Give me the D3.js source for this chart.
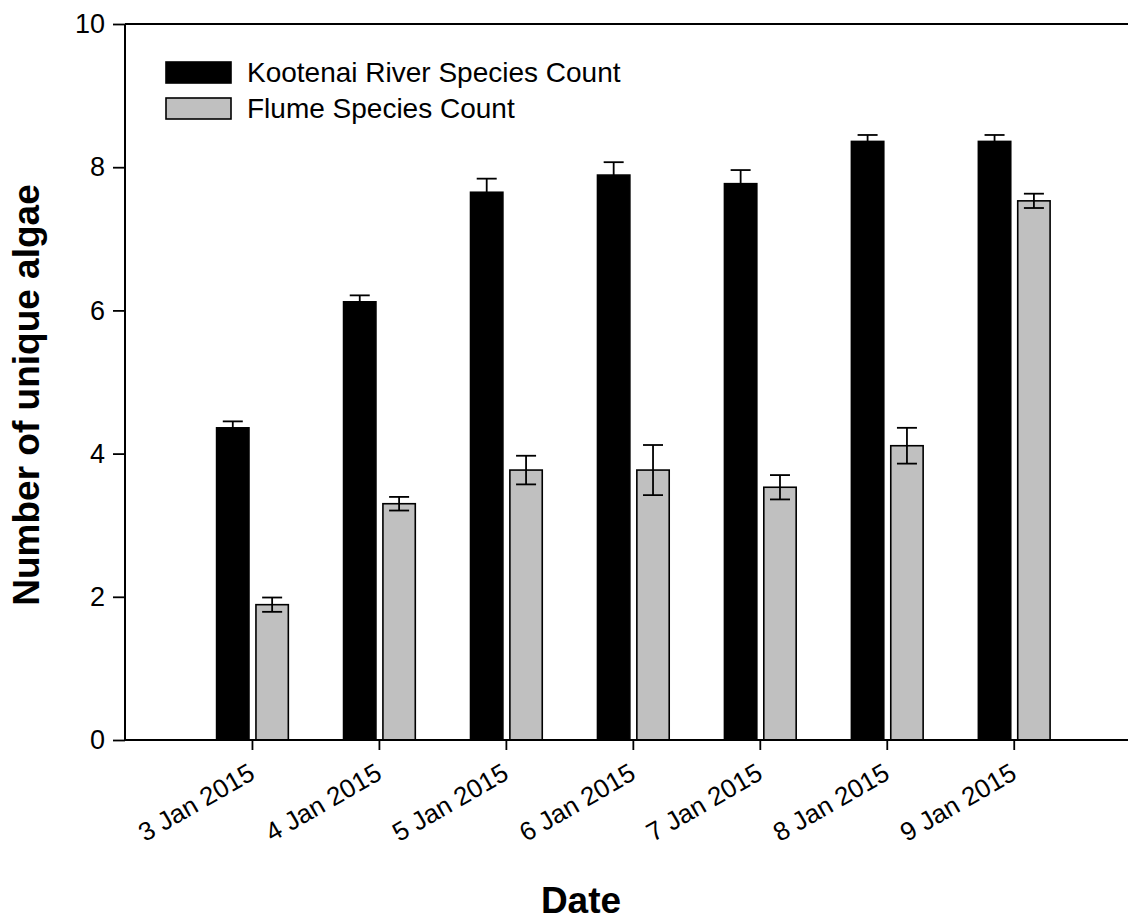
<!DOCTYPE html>
<html>
<head>
<meta charset="utf-8">
<script src="https://cdn.jsdelivr.net/npm/d3@7"></script>
<style>
  html, body { margin: 0; padding: 0; background: #fff; }
  svg { display: block; font-family: Arial, "Liberation Sans", sans-serif; }
</style>
</head>
<body>
<svg id="chart" width="1128" height="921"></svg>
<script>
// Sampling dates and species counts (mean ± standard error)
const dates = ["3 Jan 2015", "4 Jan 2015", "5 Jan 2015", "6 Jan 2015", "7 Jan 2015", "8 Jan 2015", "9 Jan 2015"];
const riverCount = [4.36, 6.12, 7.65, 7.89, 7.77, 8.36, 8.36];
const riverErr   = [0.09, 0.09, 0.19, 0.18, 0.19, 0.09, 0.09];
const flumeCount = [1.89, 3.30, 3.77, 3.77, 3.53, 4.11, 7.53];
const flumeErr   = [0.10, 0.095, 0.20, 0.35, 0.17, 0.25, 0.10];
const yTicks = [0, 2, 4, 6, 8, 10];
const seriesNames = ["Kootenai River Species Count", "Flume Species Count"];

const FONT = "Arial, 'Liberation Sans', sans-serif";
const svg = d3.select("#chart");
const plotLeft = 125, plotRight = 1128, plotTop = 24, plotBottom = 740;

const x = d3.scaleLinear().domain([0, 7.9]).range([plotLeft, plotRight]);
const y = d3.scaleLinear().domain([0, 10]).range([plotBottom, plotTop]);

const step = x(1) - x(0);
const barW = step * 0.255;
const gap = step * 0.055;

const series = [
  { name: seriesNames[0], values: riverCount, errs: riverErr, fill: "#000000", offset: -gap / 2 - barW },
  { name: seriesNames[1], values: flumeCount, errs: flumeErr, fill: "#c0c0c0", offset: gap / 2 }
];

// Bars
series.forEach(s => {
  svg.append("g").selectAll("rect")
    .data(s.values)
    .join("rect")
    .attr("x", (d, i) => x(i + 1) + 0.5 + s.offset)
    .attr("y", d => y(d))
    .attr("width", barW)
    .attr("height", d => y(0) - y(d))
    .attr("fill", s.fill)
    .attr("stroke", "#000")
    .attr("stroke-width", 1.6);
});

// Error bars
const capW = 20;
series.forEach(s => {
  const g = svg.append("g").attr("stroke", "#000").attr("stroke-width", 1.8).attr("fill", "none");
  s.values.forEach((d, i) => {
    const cx = x(i + 1) + 0.5 + s.offset + barW / 2;
    const hi = y(d + s.errs[i]), lo = y(d - s.errs[i]);
    g.append("line").attr("x1", cx).attr("x2", cx).attr("y1", hi).attr("y2", lo);
    g.append("line").attr("x1", cx - capW / 2).attr("x2", cx + capW / 2).attr("y1", hi).attr("y2", hi);
    g.append("line").attr("x1", cx - capW / 2).attr("x2", cx + capW / 2).attr("y1", lo).attr("y2", lo);
  });
});

// Y axis
const yAxis = svg.append("g")
  .attr("transform", `translate(${plotLeft},0)`)
  .call(d3.axisLeft(y).tickValues(yTicks).tickSize(12).tickPadding(8).tickFormat(d3.format("d")));
yAxis.attr("font-size", 27).attr("font-family", FONT);
yAxis.select(".domain").attr("stroke-width", 2).attr("d", `M0,${plotTop}V${plotBottom}`);
yAxis.selectAll(".tick line").attr("stroke-width", 1.8);
yAxis.selectAll(".tick text").attr("fill", "#000");

// X axis
const xAxis = svg.append("g")
  .attr("transform", `translate(0,${plotBottom})`)
  .call(d3.axisBottom(x).tickValues(d3.range(1, dates.length + 1)).tickSize(10).tickFormat(i => dates[i - 1]));
xAxis.attr("font-size", 26).attr("font-family", FONT);
xAxis.select(".domain").attr("stroke-width", 2).attr("d", `M${plotLeft},0H${plotRight}`);
xAxis.selectAll(".tick line").attr("stroke-width", 1.8);
xAxis.selectAll(".tick text")
  .attr("fill", "#000")
  .attr("text-anchor", "end")
  .attr("dy", null)
  .attr("y", null)
  .attr("transform", "translate(4,38) rotate(-30)");

// Top frame line
svg.append("line")
  .attr("x1", plotLeft).attr("x2", plotRight).attr("y1", plotTop).attr("y2", plotTop)
  .attr("stroke", "#000").attr("stroke-width", 2);

// Axis titles
svg.append("text")
  .attr("x", 581).attr("y", 913)
  .attr("text-anchor", "middle")
  .attr("font-size", 37).attr("font-weight", "bold")
  .text("Date");

svg.append("text")
  .attr("transform", `translate(39,395) rotate(-90)`)
  .attr("text-anchor", "middle")
  .attr("font-size", 37).attr("font-weight", "bold")
  .text("Number of unique algae");

// Legend
const legend = svg.append("g").attr("transform", "translate(166,62)");
series.forEach((s, i) => {
  legend.append("rect")
    .attr("x", 0).attr("y", i * 36)
    .attr("width", 65).attr("height", 21)
    .attr("fill", s.fill).attr("stroke", "#000").attr("stroke-width", 1.6);
  legend.append("text")
    .attr("x", 81).attr("y", i * 36 + 20)
    .attr("font-size", 28)
    .text(s.name);
});
</script>
</body>
</html>
